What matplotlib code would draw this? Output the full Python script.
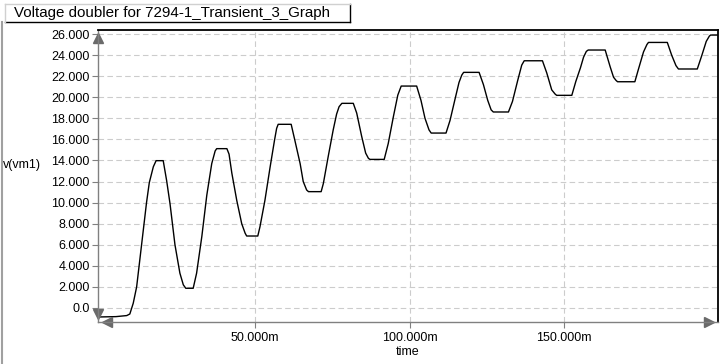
"""Transient plot of the voltage doubler output v(vm1)."""
import matplotlib
matplotlib.use("Agg")
import matplotlib.pyplot as plt
from matplotlib.lines import Line2D
from matplotlib.ticker import FuncFormatter

plt.rcParams['font.family'] = ['Liberation Sans', 'DejaVu Sans']

title = "Voltage doubler for 7294-1_Transient_3_Graph"
y_label = "v(vm1)"
x_label = "time"

# time in ms, voltage in V
t_ms = [0.0, 5.0, 8.5, 9.5, 10.6, 11.7, 13.3, 14.9, 15.8, 17.1,
        18.0, 20.3, 21.4, 22.5, 24.1, 25.7, 26.8, 27.6, 30.0, 31.1,
        32.8, 34.4, 36.0, 37.1, 37.6, 40.9, 41.6, 42.5, 44.1, 45.7,
        46.8, 47.3, 50.9, 51.6, 53.2, 54.9, 56.3, 57.0, 57.5, 61.7,
        62.9, 64.6, 65.6, 66.7, 67.3, 71.4, 72.1, 73.7, 75.3, 76.4,
        77.2, 78.1, 81.8, 82.9, 84.5, 85.8, 86.7, 87.2, 91.8, 93.1,
        94.8, 96.2, 97.3, 102.3, 103.7, 105.0, 106.3, 107.0, 111.8, 113.1,
        114.7, 116.0, 116.9, 117.5, 122.5, 123.9, 125.3, 126.4, 127.1, 132.0,
        133.3, 135.0, 136.3, 137.1, 143.0, 144.4, 146.0, 147.1, 147.6, 152.5,
        153.8, 155.3, 156.3, 157.2, 157.8, 163.3, 164.9, 166.0, 166.8, 167.3,
        172.9, 174.0, 175.7, 176.8, 177.3, 183.4, 184.8, 186.2, 187.0, 193.1,
        194.6, 196.0, 197.0, 197.4, 200.0]
v_vm1 = [-0.85, -0.82, -0.72, -0.57, 0.45, 2.0, 6.0, 10.0, 11.9, 13.4,
         13.98, 13.98, 12.1, 9.9, 6.0, 3.3, 2.2, 1.87, 1.87, 3.3,
         6.8, 10.7, 13.7, 14.9, 15.12, 15.12, 14.6, 12.8, 10.2, 8.0,
         7.1, 6.83, 6.83, 7.7, 10.2, 13.4, 15.9, 17.05, 17.43, 17.43,
         15.9, 13.7, 12.0, 11.2, 11.04, 11.04, 11.8, 14.4, 16.9, 18.4,
         19.1, 19.42, 19.42, 18.5, 16.3, 14.7, 14.2, 14.1, 14.1, 15.6,
         18.2, 20.2, 21.06, 21.06, 19.7, 18.0, 16.9, 16.6, 16.6, 17.8,
         19.8, 21.4, 22.1, 22.36, 22.36, 21.2, 19.7, 18.8, 18.6, 18.6,
         19.6, 21.6, 23.05, 23.46, 23.46, 22.3, 20.7, 20.3, 20.18, 20.18,
         21.5, 22.8, 23.8, 24.35, 24.48, 24.48, 22.9, 21.9, 21.6, 21.47,
         21.47, 22.6, 24.3, 25.0, 25.2, 25.2, 24.0, 23.0, 22.68, 22.68,
         24.0, 25.3, 25.8, 25.9, 25.9]

x_ticks = [50, 100, 150]
y_ticks = [0, 2, 4, 6, 8, 10, 12, 14, 16, 18, 20, 22, 24, 26]

fig = plt.figure(figsize=(7.24, 3.64), dpi=100)
ax = fig.add_axes([98 / 724, 1 - 322 / 364, 620 / 724, 292 / 364])

ax.plot(t_ms, v_vm1, color='black', lw=1.0)

ax.set_xlim(-0.8, 199.8)
ax.set_ylim(-1.33, 26.38)
ax.set_xticks(x_ticks)
ax.set_yticks(y_ticks)
ax.xaxis.set_major_formatter(FuncFormatter(lambda v, p: f"{v:.3f}m"))
ax.yaxis.set_major_formatter(
    FuncFormatter(lambda v, p: "0.0" if v == 0 else f"{v:.3f}"))
ax.tick_params(axis='both', labelsize=9, length=4, color='#808080',
               direction='out')
ax.tick_params(axis='y', pad=2)
ax.tick_params(axis='x', pad=3)

ax.grid(True, color='#cccccc', linestyle=(0, (5, 3)), lw=0.8)
ax.set_axisbelow(True)

for side in ('left', 'bottom'):
    ax.spines[side].set_color('#808080')
    ax.spines[side].set_linewidth(1.0)
for side in ('top', 'right'):
    ax.spines[side].set_color('black')
    ax.spines[side].set_linewidth(1.3)

# axis arrows at the ends
arrow_kw = dict(transform=ax.transAxes, clip_on=False, color='#6a6a6a',
                ms=7, ls='none')
ax.plot([0], [0.972], marker='^', **arrow_kw)
ax.plot([0], [0.028], marker='v', **arrow_kw)
ax.plot([0.014], [0], marker='<', **arrow_kw)
ax.plot([0.986], [0], marker='>', **arrow_kw)

fig.text(3 / 724, 1 - 165 / 364, y_label, fontsize=9, ha='left',
         va='center')
fig.text(408 / 724, 1 - 352 / 364, x_label, fontsize=9, ha='center',
         va='center')

# title tab
fig.text(14 / 724, 1 - 13 / 364, title, fontsize=10.9, ha='left',
         va='center')
fig.add_artist(Line2D([5 / 724, 350 / 724], [1 - 22 / 364, 1 - 22 / 364],
                      color='black', lw=1.0))
fig.add_artist(Line2D([350 / 724, 350 / 724], [1 - 4 / 364, 1 - 22 / 364],
                      color='black', lw=1.0))
fig.add_artist(Line2D([5 / 724, 350 / 724], [1 - 4 / 364, 1 - 4 / 364],
                      color='#d0d0d0', lw=1.0))
fig.add_artist(Line2D([5 / 724, 5 / 724], [1 - 4 / 364, 1 - 22 / 364],
                      color='#d0d0d0', lw=1.0))
# window edge on the left
fig.add_artist(Line2D([2 / 724, 2 / 724], [0, 1 - 22 / 364],
                      color='#a0a0a0', lw=1.5))

fig.savefig("out.png", dpi=100)
